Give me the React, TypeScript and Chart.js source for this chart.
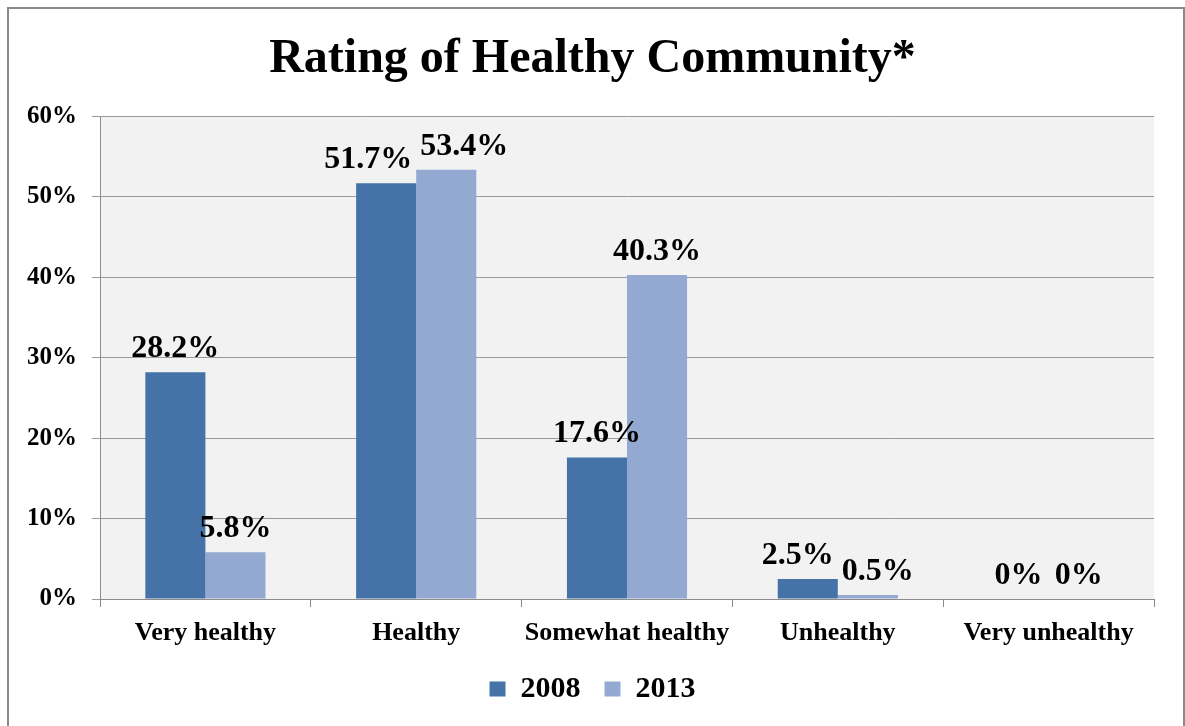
import React, { useEffect, useRef } from "react";
import { Chart, registerables } from "chart.js";

Chart.register(...registerables);

const categories = ["Very healthy", "Healthy", "Somewhat healthy", "Unhealthy", "Very unhealthy"];
const series2008 = [28.2, 51.7, 17.6, 2.5, 0];
const series2013 = [5.8, 53.4, 40.3, 0.5, 0];
const seriesNames = ["2008", "2013"];
const yTicks = [0, 10, 20, 30, 40, 50, 60];

const FONT = "'Liberation Serif', 'Times New Roman', serif";

const plotBg = {
  id: "plotBg",
  beforeDraw(chart: any) {
    const { ctx, chartArea } = chart;
    ctx.save();
    ctx.fillStyle = "#f2f2f2";
    ctx.fillRect(chartArea.left, chartArea.top, chartArea.right - chartArea.left, chartArea.bottom - chartArea.top);
    ctx.restore();
  },
};

const valueLabels = {
  id: "valueLabels",
  afterDatasetsDraw(chart: any) {
    const { ctx } = chart;
    ctx.save();
    const size = 32;
    ctx.font = `bold ${size}px ${FONT}`;
    ctx.fillStyle = "#000";
    ctx.textAlign = "center";
    ctx.textBaseline = "alphabetic";
    const gap = 15;
    const textH = size * 0.7;
    const m0 = chart.getDatasetMeta(0);
    const m1 = chart.getDatasetMeta(1);
    const d0 = chart.data.datasets[0].data;
    const d1 = chart.data.datasets[1].data;
    for (let j = 0; j < d0.length; j++) {
      const e0 = m0.data[j];
      const e1 = m1.data[j];
      const t0 = `${d0[j]}%`;
      const t1 = `${d1[j]}%`;
      const w0 = ctx.measureText(t0).width;
      const w1 = ctx.measureText(t1).width;
      let x0 = e0.x;
      let x1 = e1.x;
      const y0 = e0.y - gap;
      const y1 = e1.y - gap;
      const vOverlap = Math.abs(y0 - y1) < textH;
      const need = (w0 + w1) / 2 + 8;
      const dist = x1 - x0;
      if (vOverlap && d0[j] !== 0 && dist < need) {
        const push = (need - dist) / 2;
        x0 -= push;
        x1 += push;
      }
      ctx.fillText(t0, x0, y0);
      ctx.fillText(t1, x1, y1);
    }
    ctx.restore();
  },
};

export default function App() {
  const ref = useRef<HTMLCanvasElement>(null);
  useEffect(() => {
    if (!ref.current) return;
    const chart = new Chart(ref.current, {
      type: "bar",
      data: {
        labels: categories,
        datasets: [
          { label: seriesNames[0], data: series2008, backgroundColor: "#4572a7", categoryPercentage: 0.57, barPercentage: 1 },
          { label: seriesNames[1], data: series2013, backgroundColor: "#94a9d1", categoryPercentage: 0.57, barPercentage: 1 },
        ],
      },
      options: {
        responsive: false,
        animation: false,
        devicePixelRatio: 1,
        layout: { padding: { left: 24, right: 24, top: 0, bottom: 12 } },
        plugins: {
          title: {
            display: true,
            text: "Rating of Healthy Community*",
            color: "#000",
            font: { family: FONT, size: 48, weight: "bold" },
            padding: { top: 31, bottom: 28 },
          },
          legend: {
            position: "bottom",
            labels: {
              color: "#000",
              font: { family: FONT, size: 30, weight: "bold" },
              boxWidth: 16,
              boxHeight: 15,
              padding: 24,
            },
          },
          tooltip: { enabled: false },
        },
        scales: {
          x: {
            afterFit(scale: any) {
              scale.height = 51;
            },
            grid: { drawOnChartArea: false, drawTicks: true, tickLength: 8, color: "#8c8c8c", offset: true },
            border: { display: true, color: "#8c8c8c" },
            ticks: { color: "#000", font: { family: FONT, size: 26, weight: "bold" }, padding: 11, maxRotation: 0 },
          },
          y: {
            min: 0,
            max: 60,
            afterFit(scale: any) {
              scale.width = 76;
            },
            afterBuildTicks(scale: any) {
              scale.ticks = yTicks.map((v) => ({ value: v }));
            },
            grid: { color: "#9a9a9a", tickLength: 8, drawTicks: true },
            border: { display: true, color: "#8c8c8c" },
            ticks: {
              color: "#000",
              font: { family: FONT, size: 25, weight: "bold" },
              padding: 15,
              callback: (v: any) => `${v}%`,
            },
          },
          yRight: {
            position: "right",
            display: true,
            afterFit(scale: any) {
              scale.width = 7;
            },
            grid: { display: false, drawOnChartArea: false },
            border: { display: false },
            ticks: { display: false },
          },
        },
      },
      plugins: [plotBg, valueLabels],
    });
    return () => chart.destroy();
  }, []);
  return (
    <>
      <div style={{ position: "fixed", left: 0, top: 0, width: 1185, height: 726, background: "#fff" }}>
        <canvas ref={ref} width={1185} height={726} style={{ display: "block" }} />
      </div>
      <div
        style={{
          position: "fixed",
          left: 7,
          top: 7,
          width: 1178,
          height: 730,
          border: "2px solid #8a8a8a",
          boxSizing: "border-box",
          pointerEvents: "none",
        }}
      />
    </>
  );
}
